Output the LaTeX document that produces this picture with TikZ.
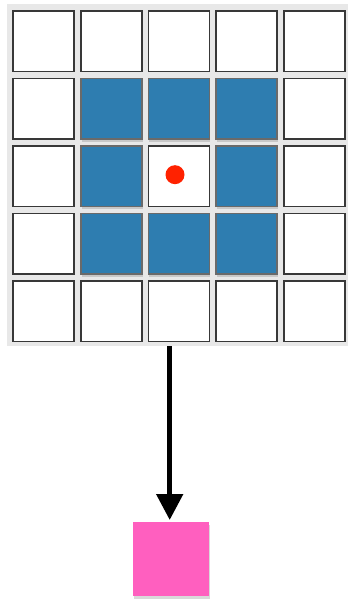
\documentclass[tikz,border=0pt]{standalone}
\usetikzlibrary{arrows.meta,shadows}
\definecolor{gridbg}{HTML}{E8E8E8}
\definecolor{cellline}{HTML}{383838}
\definecolor{blueCell}{HTML}{2E7DB0}
\definecolor{pinkBox}{HTML}{FF5FBF}
\definecolor{redDot}{HTML}{FF2200}
\tikzset{
  cellbox/.style={draw=cellline, line width=1.6pt, fill=white, minimum width=61pt, minimum height=60.5pt, inner sep=0pt, anchor=north west},
  bluebox/.style={cellbox, fill=blueCell, draw=cellline!75, drop shadow={shadow xshift=0.6pt, shadow yshift=-2.5pt, opacity=0.3}},
  pinkbox/.style={fill=pinkBox, minimum width=76pt, minimum height=74pt, inner sep=0pt, anchor=north west, drop shadow={shadow xshift=1pt, shadow yshift=-2.5pt, opacity=0.3}},
}
\begin{document}
\begin{tikzpicture}[x=1pt,y=-1pt]
\useasboundingbox (0,0) rectangle (348,601);
\node[fill=gridbg, minimum width=341pt, minimum height=342pt, inner sep=0pt, anchor=north west] (grid) at (7,4) {};
\foreach \r/\y in {1/10.3,2/77.8,3/145.3,4/212.8,5/280.3}{
  \foreach \c/\x in {1/12.3,2/80.3,3/147.8,4/215.3,5/283.3}{
    \pgfmathtruncatemacro{\isblue}{(\r>1)*(\r<5)*(\c>1)*(\c<5)*(1-(\r==3)*(\c==3))}
    \ifnum\isblue=1
      \node[bluebox] (c-\r-\c) at (\x,\y) {};
    \else
      \node[cellbox] (c-\r-\c) at (\x,\y) {};
    \fi
  }
}
\node[circle, fill=redDot, minimum size=19pt, inner sep=0pt] (dot) at (175,174.7) {};
\node[pinkbox] (out) at (133,522) {};
\draw[line width=5pt, -{Triangle[length=26pt,width=26pt]}, shorten >=2pt] ([xshift=-1.5pt]out.north |- grid.south) -- ([xshift=-1.5pt]out.north);
\end{tikzpicture}
\end{document}
